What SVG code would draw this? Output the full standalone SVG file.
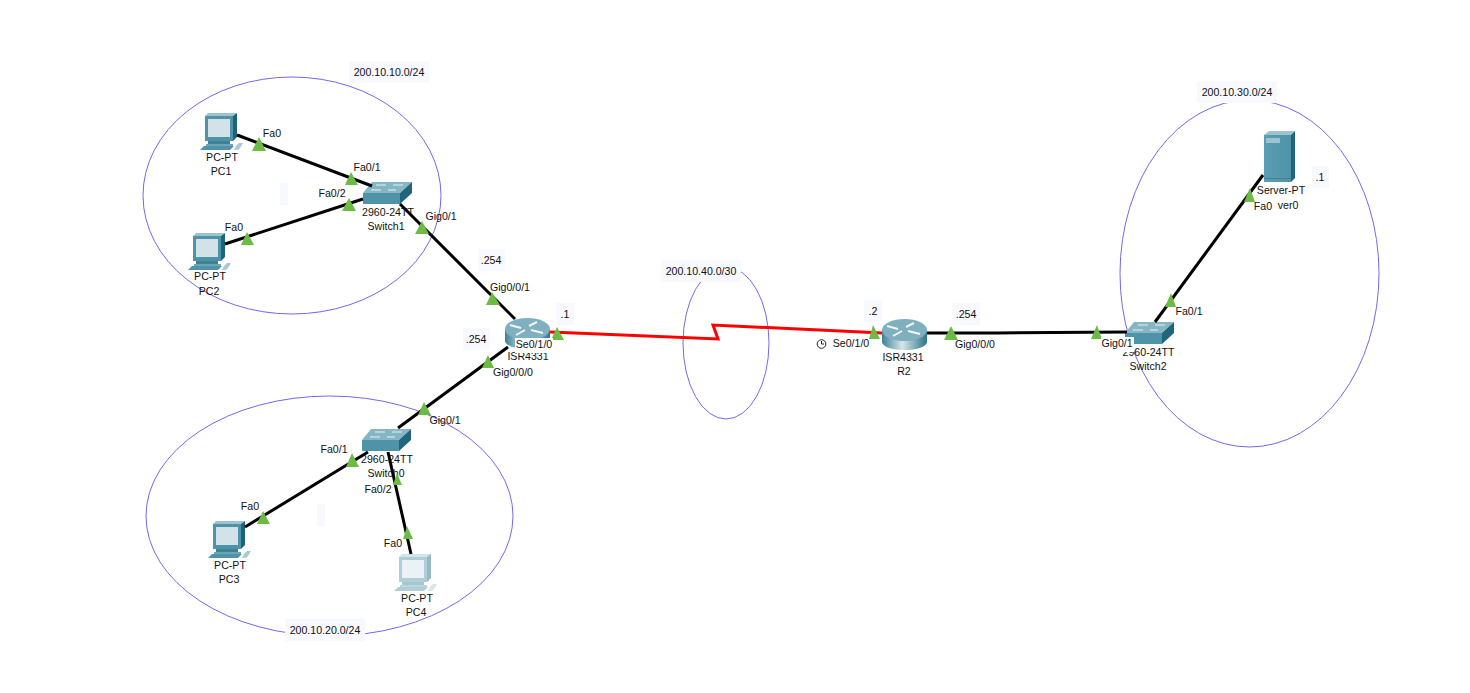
<svg xmlns="http://www.w3.org/2000/svg" xmlns:xlink="http://www.w3.org/1999/xlink" width="1470" height="693" viewBox="0 0 1470 693">
<style>
text{font-family:"Liberation Sans",Arial,sans-serif;font-size:10.6px;fill:#111;text-anchor:middle}
.zone{fill:none;stroke:#7468ee;stroke-width:1}
.link{fill:none;stroke:#000;stroke-width:3}
.serial{fill:none;stroke:#f00;stroke-width:3}
.port{fill:#6dbb45}
.tag{fill:#f8f8ff}
.wipe{fill:#fff}
</style>
<defs>
<linearGradient id="cyl" x1="0" x2="1" y1="0" y2="0"><stop offset="0" stop-color="#3f8296"/><stop offset=".45" stop-color="#d5e6ec"/><stop offset="1" stop-color="#2f7488"/></linearGradient>
<linearGradient id="srv" x1="0" x2="1" y1="0" y2="0"><stop offset="0" stop-color="#5b9db2"/><stop offset="1" stop-color="#4f93a9"/></linearGradient>
<g id="pc">
<polygon points="5,3 8,0 37,0 33,3" fill="#9cc3cf"/>
<rect x="5" y="3" width="28" height="25" fill="#4f93a9"/>
<polygon points="33,3 37,0 37,24 33,28" fill="#1f6377"/>
<rect x="8" y="6" width="22" height="18" fill="#d3e2e8"/>
<rect x="8" y="28" width="22" height="3" fill="#3f8296"/>
<rect x="6" y="31" width="27" height="2" fill="#6ba6b8"/>
<polygon points="4,33 34,33 30,37 0,37" fill="#4f93a9"/>
<path d="M36 33l3-3h4l-3 5-2 2h-4z" fill="#a8c8d2"/>
</g>
<g id="sw">
<polygon points="9,1 49,1 37,12 0,12" fill="#86b5c4"/>
<path d="M13 4h10M30 4h10M8 9h10M25 9h8" stroke="#e8f2f5" stroke-width="1"/>
<rect x="0" y="12" width="37" height="11" fill="#4f93a9"/>
<polygon points="37,12 49,1 49,12 37,23" fill="#21657a"/>
</g>
<g id="rt">
<path d="M0 11V23A22.500 8 0 0 0 45 23V11Z" fill="url(#cyl)"/>
<ellipse cx="22.500" cy="11" rx="22.500" ry="11" fill="#7fb0c0"/>
<path d="M5 7l11 3M11 17l9-5M24 8l8-4M26 12l12 3" stroke="#f0f6f8" stroke-width="2"/>
</g>
</defs>

<g id="zones">
<ellipse class="zone" cx="292" cy="195.500" rx="149" ry="118.500"/>
<ellipse class="zone" cx="329.500" cy="516" rx="183.500" ry="120"/>
<ellipse class="zone" cx="726" cy="343" rx="43" ry="76"/>
<ellipse class="zone" cx="1249.500" cy="273.500" rx="129.500" ry="173.500"/>
<rect class="tag" x="349" y="61" width="80" height="22"/><text x="389" y="76">200.10.10.0/24</text>
<rect class="tag" x="285" y="619" width="80" height="22"/><text x="325" y="634">200.10.20.0/24</text>
<rect class="tag" x="661" y="260" width="80" height="22"/><text x="701" y="275">200.10.40.0/30</text>
<rect class="tag" x="1197" y="81" width="80" height="22"/><text x="1237" y="96">200.10.30.0/24</text>
<rect class="tag" x="280" y="183" width="8" height="22"/>
<rect class="tag" x="317" y="504" width="8" height="22"/>
</g>

<g id="PC1"><use xlink:href="#pc" href="#pc" x="200" y="113"/><text x="222" y="161">PC-PT</text><text x="221" y="175">PC1</text></g>
<g id="PC2"><use xlink:href="#pc" href="#pc" x="188" y="233"/><text x="210" y="280">PC-PT</text><text x="209" y="295">PC2</text></g>
<g id="PC3"><use xlink:href="#pc" href="#pc" x="208" y="521"/><text x="230" y="569">PC-PT</text><text x="229" y="583">PC3</text></g>
<g id="PC4"><use xlink:href="#pc" href="#pc" x="394" y="554" opacity=".45"/><text x="417" y="602">PC-PT</text><text x="416" y="616">PC4</text></g>
<g id="Switch1"><use xlink:href="#sw" href="#sw" x="363" y="181"/><text x="388" y="216">2960-24TT</text><text x="386" y="230">Switch1</text></g>
<g id="Switch0"><use xlink:href="#sw" href="#sw" x="362" y="428"/><text x="387" y="463">2960-24TT</text><text x="386" y="477">Switch0</text></g>
<g id="Switch2"><use xlink:href="#sw" href="#sw" x="1125" y="321"/><text x="1148.500" y="356">2960-24TT</text><text x="1148" y="370">Switch2</text></g>
<g id="R1"><use xlink:href="#rt" href="#rt" x="505" y="318"/><text x="528" y="360">ISR4331</text></g>
<g id="R2"><use xlink:href="#rt" href="#rt" x="882" y="319"/><text x="903" y="361">ISR4331</text><text x="904" y="375">R2</text></g>
<g id="Server0">
<polygon points="1264,135 1269,131 1295,131 1291,135" fill="#9cc3cf"/>
<rect x="1264" y="135" width="27" height="47" fill="url(#srv)"/>
<polygon points="1291,135 1295,131 1295,178 1291,182" fill="#1f6377"/>
<rect x="1266" y="138" width="14" height="5" fill="#9cc3cf"/>
<rect x="1264" y="178" width="27" height="1" fill="#3f8296"/>
<text x="1288" y="209">ver0</text>
</g>

<g id="connectors">
<path class="link" d="M237 135L372 186"/>
<path class="link" d="M225 244L363 199"/>
<path class="link" d="M400 204L515 319"/>
<path class="link" d="M508 347L398 428"/>
<path class="link" d="M245 527L368 452"/>
<path class="link" d="M388 452L411 554"/>
<path class="serial" d="M550 332L718 339L713 325L882 333"/>
<path class="link" d="M927 333L998 333L1127 332"/>
<path class="link" d="M1155 322L1263 175"/>
</g>

<g id="ports">
<polygon class="port" points="259,137 252,151 266,151"/>
<polygon class="port" points="351,172 345,185 358,185"/>
<polygon class="port" points="349,198 342,211 356,211"/>
<polygon class="port" points="247,232 241,245 254,245"/>
<polygon class="port" points="422,221 415,234 429,234"/>
<polygon class="port" points="492,292 486,305 500,305"/>
<polygon class="port" points="557,327 551,340 564,340"/>
<polygon class="port" points="488,355 482,368 494,368"/>
<polygon class="port" points="424,402 418,415 431,415"/>
<polygon class="port" points="352,453 346,467 359,467"/>
<polygon class="port" points="397,473 393,485 402,485"/>
<polygon class="port" points="263,511 257,524 270,524"/>
<polygon class="port" points="407,526 403,539 413,539"/>
<polygon class="port" points="873,325 869,339 880,339"/>
<polygon class="port" points="951,326 944,340 958,340"/>
<polygon class="port" points="1097,325 1091,339 1102,339"/>
<polygon class="port" points="1171,293 1165,307 1176,307"/>
<polygon class="port" points="1250,188 1244,202 1255,202"/>
<text x="272" y="137">Fa0</text>
<text x="367" y="171">Fa0/1</text>
<text x="332" y="197">Fa0/2</text>
<text x="234" y="231">Fa0</text>
<text x="441" y="220">Gig0/1</text>
<text x="510" y="291">Gig0/0/1</text>
<rect class="wipe" x="515" y="338" width="38" height="15"/><text x="534" y="348">Se0/1/0</text>
<text x="513" y="376">Gig0/0/0</text>
<text x="445" y="424">Gig0/1</text>
<text x="334" y="453">Fa0/1</text>
<text x="378" y="493">Fa0/2</text>
<text x="250" y="510">Fa0</text>
<text x="393" y="547">Fa0</text>
<text x="851" y="347">Se0/1/0</text>
<text x="975" y="348">Gig0/0/0</text>
<rect class="wipe" x="1101" y="337" width="33" height="15"/><text x="1117" y="347">Gig0/1</text>
<text x="1189" y="315">Fa0/1</text>
<text x="1281" y="194">Server-PT</text>
<text x="1263" y="210">Fa0</text>
<g fill="none" stroke="#222" stroke-width="1"><circle cx="821.500" cy="344" r="4.300"/><path d="M821.500 341V344H824"/></g>
<rect class="tag" x="478" y="249" width="27" height="22"/><text x="491" y="264">.254</text>
<rect class="tag" x="556" y="303" width="18" height="22"/><text x="565" y="318">.1</text>
<rect class="tag" x="463" y="328" width="27" height="22"/><text x="476" y="343">.254</text>
<rect class="tag" x="864" y="300" width="18" height="22"/><text x="873" y="315">.2</text>
<rect class="tag" x="952" y="303" width="28" height="22"/><text x="966" y="318">.254</text>
<rect class="tag" x="1312" y="166" width="17" height="22"/><text x="1320" y="181">.1</text>
</g>
</svg>
